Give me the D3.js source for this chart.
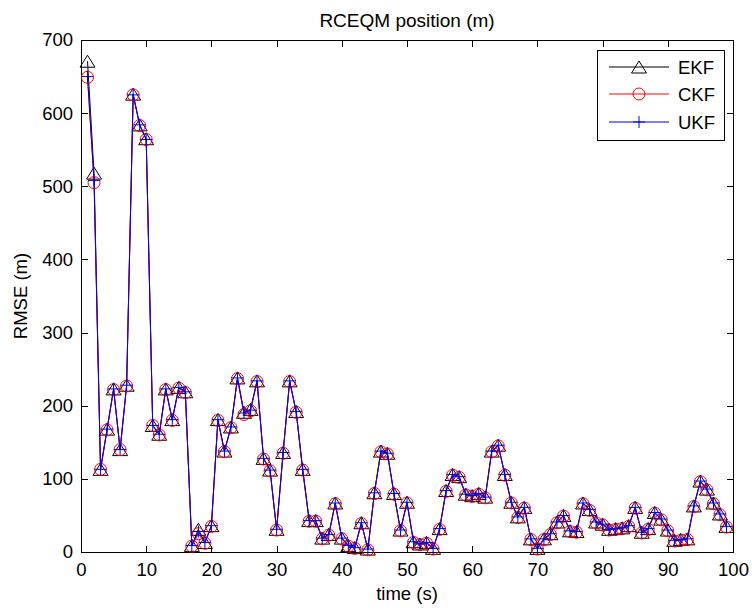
<!DOCTYPE html>
<html lang="en">
<head>
<meta charset="utf-8">
<title>RCEQM position</title>
<style>
body {
  margin: 0;
  background: #fff;
  font-family: "Liberation Sans", Arial, sans-serif;
}
svg text {
  font-family: "Liberation Sans", Arial, sans-serif;
  fill: #000;
}
.axis path, .axis line {
  stroke: #000;
  shape-rendering: crispEdges;
}
</style>
</head>
<body>
<div id="chart"></div>
<script src="https://cdn.jsdelivr.net/npm/d3@7"></script>
<script>

// time steps (s)
var times = [1, 2, 3, 4, 5, 6, 7, 8, 9, 10, 11, 12, 13, 14, 15, 16, 17, 18, 19, 20,
  21, 22, 23, 24, 25, 26, 27, 28, 29, 30, 31, 32, 33, 34, 35, 36, 37, 38, 39, 40,
  41, 42, 43, 44, 45, 46, 47, 48, 49, 50, 51, 52, 53, 54, 55, 56, 57, 58, 59, 60,
  61, 62, 63, 64, 65, 66, 67, 68, 69, 70, 71, 72, 73, 74, 75, 76, 77, 78, 79, 80,
  81, 82, 83, 84, 85, 86, 87, 88, 89, 90, 91, 92, 93, 94, 95, 96, 97, 98, 99];

// RMSE values
var ekf = [671, 518, 113, 168, 223, 140, 228, 626, 584, 565,
  173, 161, 223, 181, 225, 219, 9, 31, 13, 36,
  181, 138, 171, 238, 191, 195, 234, 128, 112, 31,
  136, 234, 192, 113, 43, 43, 19, 24, 67, 19,
  9, 6, 40, 4, 81, 138, 135, 80, 30, 68,
  14, 11, 13, 5, 32, 84, 106, 103, 79, 77,
  80, 75, 138, 146, 106, 68, 48, 61, 18, 5,
  18, 25, 41, 50, 29, 28, 67, 58, 41, 38,
  31, 32, 33, 36, 61, 27, 32, 54, 45, 30,
  16, 17, 18, 63, 97, 86, 67, 52, 35];

var ckf = [649, 505, 113, 167, 222, 140, 227, 625, 583, 564,
  173, 160, 222, 180, 224, 218, 8, 25, 12, 35,
  180, 137, 170, 237, 188, 193, 233, 127, 111, 30,
  135, 233, 191, 112, 42, 42, 18, 23, 66, 18,
  8, 5, 39, 3, 80, 137, 134, 79, 29, 67,
  13, 10, 12, 4, 31, 83, 105, 102, 78, 76,
  79, 74, 137, 145, 105, 67, 47, 60, 17, 4,
  17, 24, 40, 49, 28, 27, 66, 57, 40, 37,
  30, 31, 32, 35, 60, 26, 31, 53, 44, 29,
  15, 16, 17, 62, 96, 85, 66, 51, 34];

var ukf = [650, 508, 113, 168, 223, 140, 228, 625, 584, 564,
  173, 161, 223, 181, 225, 219, 9, 28, 13, 36,
  181, 138, 171, 238, 190, 194, 234, 128, 112, 31,
  136, 234, 192, 113, 43, 43, 19, 24, 67, 19,
  9, 6, 40, 4, 81, 138, 135, 80, 30, 68,
  14, 11, 13, 5, 32, 84, 106, 103, 79, 77,
  80, 75, 138, 146, 106, 68, 48, 61, 18, 5,
  18, 25, 41, 50, 29, 28, 67, 58, 41, 38,
  31, 32, 33, 36, 61, 27, 32, 54, 45, 30,
  16, 17, 18, 63, 97, 86, 67, 52, 35];

var xTicks = [0, 10, 20, 30, 40, 50, 60, 70, 80, 90, 100];
var yTicks = [0, 100, 200, 300, 400, 500, 600, 700];

var seriesNames = ["EKF", "CKF", "UKF"];
var seriesColors = ["#000000", "#ff0000", "#0000ff"];
var seriesMarkers = ["triangle", "circle", "plus"];
var seriesValues = [ekf, ckf, ukf];

var width = 752, height = 610;
var plotLeft = 81, plotRight = 733, plotTop = 40, plotBottom = 552;

var svg = d3.select("#chart").append("svg")
  .attr("width", width)
  .attr("height", height);

var x = d3.scaleLinear().domain([0, 100]).range([plotLeft, plotRight]);
var y = d3.scaleLinear().domain([0, 700]).range([plotBottom, plotTop]);

var fontSize = "18.5px";

// axes, ticks pointing inward like matlab
svg.append("g").attr("class", "axis")
  .attr("transform", "translate(0," + plotBottom + ")")
  .call(d3.axisBottom(x).tickValues(xTicks).tickSizeInner(-6.5).tickSizeOuter(0).tickPadding(11));
svg.append("g").attr("class", "axis")
  .attr("transform", "translate(0," + plotTop + ")")
  .call(d3.axisTop(x).tickValues(xTicks).tickSizeInner(-6.5).tickSizeOuter(0).tickFormat(""));
svg.append("g").attr("class", "axis")
  .attr("transform", "translate(" + plotLeft + ",0)")
  .call(d3.axisLeft(y).tickValues(yTicks).tickSizeInner(-6.5).tickSizeOuter(0).tickPadding(8));
svg.append("g").attr("class", "axis")
  .attr("transform", "translate(" + plotRight + ",0)")
  .call(d3.axisRight(y).tickValues(yTicks).tickSizeInner(-6.5).tickSizeOuter(0).tickFormat(""));

svg.selectAll(".axis text")
  .style("font-size", fontSize)
  .style("font-family", "'Liberation Sans', Arial, sans-serif")
  .attr("fill", "#000");

// marker drawing
function drawMarker(g, kind, color) {
  if (kind == "triangle") {
    g.append("path")
      .attr("d", "M0,-6L7.5,6L-7.5,6Z")
      .attr("fill", "none")
      .attr("stroke", color)
      .attr("stroke-width", 1);
  } else if (kind == "circle") {
    g.append("circle")
      .attr("r", 6)
      .attr("fill", "none")
      .attr("stroke", color)
      .attr("stroke-width", 1);
  } else {
    g.append("path")
      .attr("d", "M-6,0H6M0,-6V6")
      .attr("fill", "none")
      .attr("stroke", color)
      .attr("stroke-width", 1);
  }
}

var line = d3.line()
  .x(function(d) { return x(d[0]); })
  .y(function(d) { return y(d[1]); });

seriesNames.forEach(function(name, i) {
  var pts = times.map(function(t, j) { return [t, seriesValues[i][j]]; });
  var g = svg.append("g").attr("class", "series-" + name);
  g.append("path")
    .datum(pts)
    .attr("d", line)
    .attr("fill", "none")
    .attr("stroke", seriesColors[i])
    .attr("stroke-width", 1);
  g.selectAll("g.mk")
    .data(pts)
    .enter().append("g")
    .attr("class", "mk")
    .attr("transform", function(d) { return "translate(" + x(d[0]) + "," + y(d[1]) + ")"; })
    .each(function() { drawMarker(d3.select(this), seriesMarkers[i], seriesColors[i]); });
});

// title and labels
svg.append("text")
  .attr("x", (plotLeft + plotRight) / 2)
  .attr("y", 27)
  .attr("text-anchor", "middle")
  .style("font-size", "19px")
  .text("RCEQM position (m)");

svg.append("text")
  .attr("x", (plotLeft + plotRight) / 2)
  .attr("y", 600)
  .attr("text-anchor", "middle")
  .style("font-size", fontSize)
  .text("time (s)");

svg.append("text")
  .attr("transform", "translate(27," + ((plotTop + plotBottom) / 2) + ") rotate(-90)")
  .attr("text-anchor", "middle")
  .style("font-size", fontSize)
  .text("RMSE (m)");

// legend
var legend = svg.append("g").attr("class", "legend");
legend.append("rect")
  .attr("x", 597.5)
  .attr("y", 50.5)
  .attr("width", 127)
  .attr("height", 90)
  .attr("fill", "#fff")
  .attr("stroke", "#000")
  .attr("stroke-width", 1);

var legendRows = [67, 94, 122];
seriesNames.forEach(function(name, i) {
  var row = legend.append("g").attr("transform", "translate(0," + legendRows[i] + ")");
  row.append("line")
    .attr("x1", 609).attr("x2", 669)
    .attr("y1", 0).attr("y2", 0)
    .attr("stroke", seriesColors[i])
    .attr("stroke-width", 1);
  var m = row.append("g").attr("transform", "translate(639,0)");
  drawMarker(m, seriesMarkers[i], seriesColors[i]);
  row.append("text")
    .attr("x", 678)
    .attr("y", 6.5)
    .style("font-size", fontSize)
    .text(name);
});

</script>
</body>
</html>
